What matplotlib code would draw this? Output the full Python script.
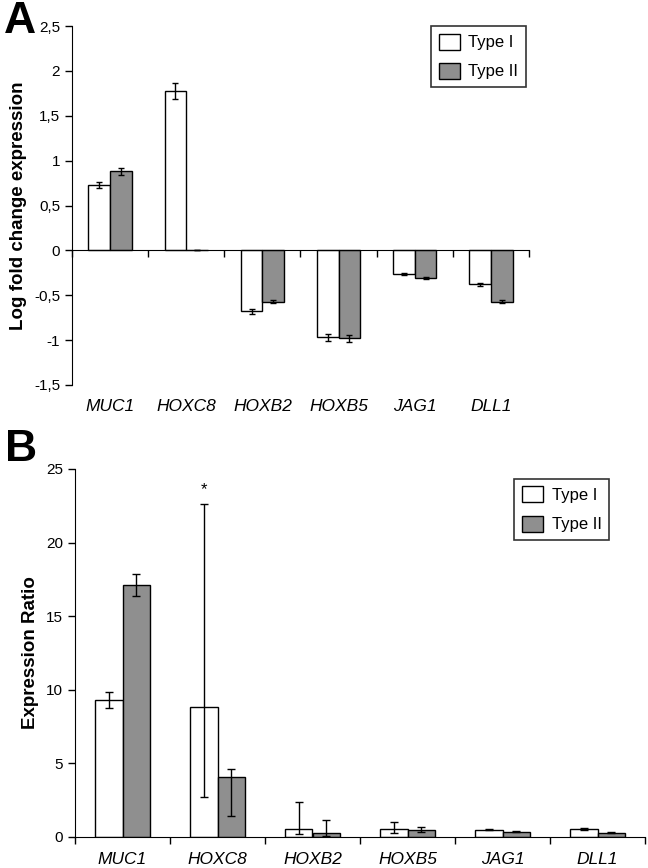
import numpy as np
import matplotlib.pyplot as plt

plt.rcParams['font.family'] = ['Liberation Sans', 'DejaVu Sans']

genes = ['MUC1', 'HOXC8', 'HOXB2', 'HOXB5', 'JAG1', 'DLL1']

# panel A: log fold change
a_type1 = [0.73, 1.78, -0.68, -0.97, -0.26, -0.38]
a_type1_err = [0.03, 0.09, 0.03, 0.04, 0.01, 0.015]
a_type2 = [0.88, 0.0, -0.57, -0.98, -0.31, -0.57]
a_type2_err = [0.04, 0.0, 0.02, 0.04, 0.01, 0.02]

# panel B: expression ratio (asymmetric errors: lower, upper)
b_type1 = [9.3, 8.8, 0.55, 0.55, 0.48, 0.55]
b_type1_lo = [0.55, 6.05, 0.35, 0.25, 0.03, 0.05]
b_type1_hi = [0.55, 13.8, 1.85, 0.45, 0.03, 0.05]
b_type2 = [17.1, 4.05, 0.25, 0.5, 0.35, 0.3]
b_type2_lo = [0.75, 2.6, 0.2, 0.15, 0.03, 0.03]
b_type2_hi = [0.75, 0.55, 0.9, 0.15, 0.03, 0.03]

gray = '#8f8f8f'
x = np.arange(len(genes))

fig = plt.figure(figsize=(6.48, 8.68), dpi=100)


def setup(ax, ymin, ymax, yticks, ylabels, ylabel, zero_axis, leg_xy):
    ax.set_xlim(-0.5, len(genes) - 0.5)
    ax.set_ylim(ymin, ymax)
    ax.set_yticks(yticks)
    ax.set_yticklabels(ylabels, fontsize=11)
    ax.spines['top'].set_visible(False)
    ax.spines['right'].set_visible(False)
    if zero_axis:
        ax.spines['bottom'].set_position(('data', 0))
    ax.set_xticks(np.arange(len(genes) + 1) - 0.5)
    ax.set_xticklabels([])
    ax.tick_params(axis='x', direction='out', length=5, width=1)
    ax.tick_params(axis='y', direction='out', length=5, width=1)
    for i, g in enumerate(genes):
        ax.text(i, -0.04, g, transform=ax.get_xaxis_transform(), ha='center',
                va='top', fontsize=12.5, style='italic')
    ax.set_ylabel(ylabel, fontsize=13.5, fontweight='bold', labelpad=5)
    leg = ax.legend(loc='upper left', bbox_to_anchor=leg_xy,
                    bbox_transform=fig.transFigure, borderaxespad=0,
                    fontsize=12, frameon=True, fancybox=False,
                    edgecolor='black', handlelength=1.3, handleheight=1.1,
                    handletextpad=0.5, borderpad=0.45, labelspacing=0.75)
    leg.get_frame().set_linewidth(1.2)


w = 0.285
# Panel A
axA = fig.add_axes([72/648, 1 - 385/868, (529 - 72)/648, (385 - 26)/868])
axA.bar(x - w/2, a_type1, w, yerr=a_type1_err, color='white', edgecolor='black',
        linewidth=1, capsize=2.5, error_kw=dict(elinewidth=1, capthick=1), label='Type I')
axA.bar(x + w/2, a_type2, w, yerr=a_type2_err, color=gray, edgecolor='black',
        linewidth=1, capsize=2.5, error_kw=dict(elinewidth=1, capthick=1), label='Type II')
setup(axA, -1.5, 2.5, [-1.5, -1, -0.5, 0, 0.5, 1, 1.5, 2, 2.5],
      ['-1,5', '-1', '-0,5', '0', '0,5', '1', '1,5', '2', '2,5'],
      'Log fold change expression', True, (431/648, 1 - 26/868))

# Panel B
axB = fig.add_axes([75/648, 1 - 837/868, (645 - 75)/648, (837 - 469)/868])
axB.bar(x - w/2, b_type1, w, yerr=[b_type1_lo, b_type1_hi], color='white',
        edgecolor='black', linewidth=1, capsize=3,
        error_kw=dict(elinewidth=1, capthick=1), label='Type I')
axB.bar(x + w/2, b_type2, w, yerr=[b_type2_lo, b_type2_hi], color=gray,
        edgecolor='black', linewidth=1, capsize=3,
        error_kw=dict(elinewidth=1, capthick=1), label='Type II')
setup(axB, 0, 25, [0, 5, 10, 15, 20, 25], ['0', '5', '10', '15', '20', '25'],
      'Expression Ratio', False, (514/648, 1 - 479/868))
axB.text(1 - w/2, b_type1[1] + b_type1_hi[1] + 0.5, '*', ha='center', va='bottom',
         fontsize=12)

fig.text(4/648, 1 - 1/868, 'A', fontsize=32, fontweight='bold', va='top', ha='left')
fig.text(5/648, 1 - 429/868, 'B', fontsize=32, fontweight='bold', va='top', ha='left')

fig.savefig('out.png', dpi=100)
